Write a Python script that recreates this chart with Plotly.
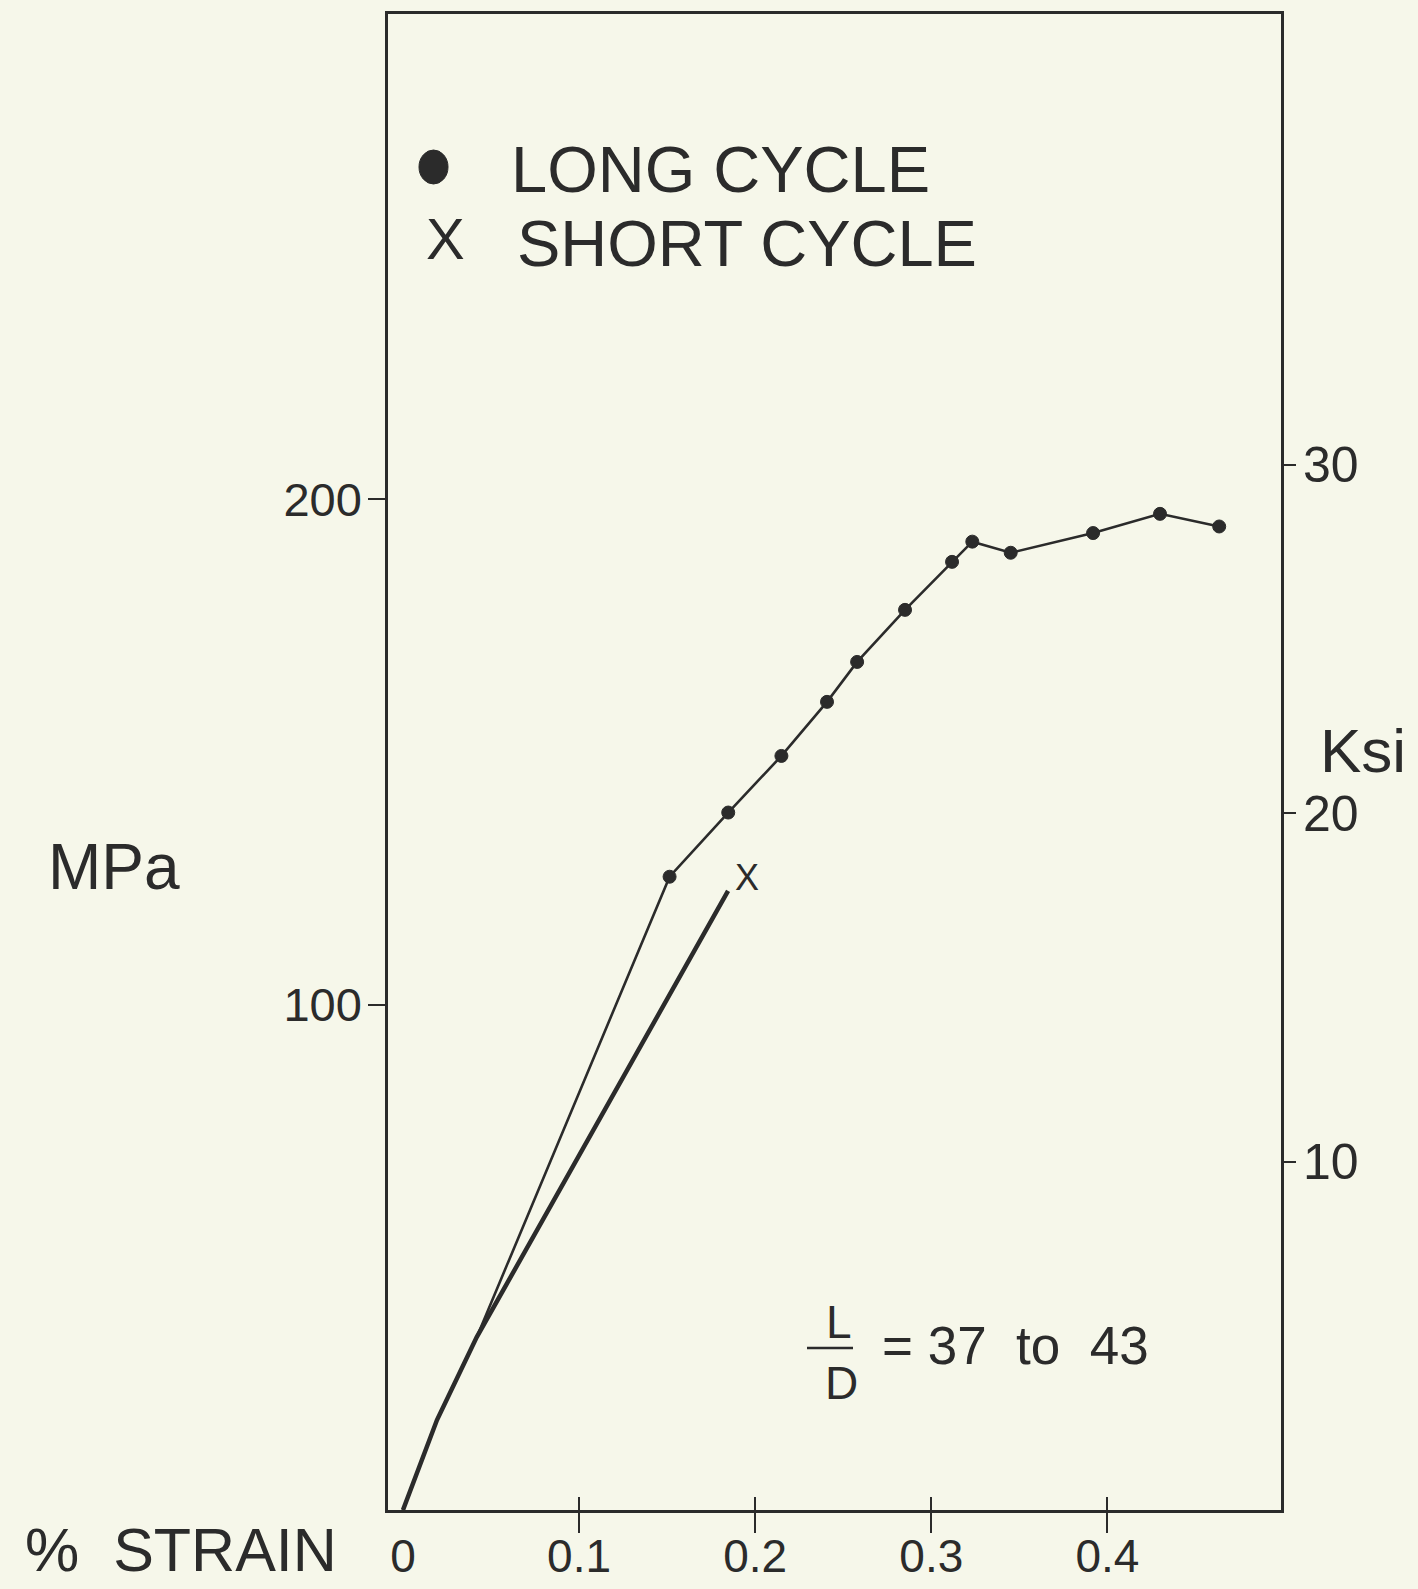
import plotly.graph_objects as go

# ---------------- data ----------------
strain_long = [0, 0.0193, 0.0419, 0.1514, 0.1847, 0.2149, 0.2408, 0.2579,
               0.2851, 0.3118, 0.3233, 0.3451, 0.3919, 0.4299, 0.4635]
stress_long = [0, 17.8, 34.2, 125.3, 138.0, 149.2, 159.9, 167.8,
               178.1, 187.6, 191.6, 189.4, 193.3, 197.1, 194.6]

strain_short = [0, 0.0193, 0.0419, 0.1846]
stress_short = [0, 17.8, 34.2, 122.5]

x_ticks = [0, 0.1, 0.2, 0.3, 0.4]
x_ticklabels = ["0", "0.1", "0.2", "0.3", "0.4"]
mpa_ticks = [100, 200]
ksi_ticks = [10, 20, 30]
MPA_PER_KSI = 6.895

# ---------------- layout geometry ----------------
W, H = 1418, 1589
L, R, T, B = 388, 1281, 14, 1510          # plot area in pixels
XR = [-0.0085, 0.4986]
YR = [0, 296]

INK = "#2b2b2b"
BG = "#f6f7ea"
FONT = "Liberation Sans, Arial, Helvetica, sans-serif"


def px(xp):
    return (xp - L) / (R - L)


def py(yp):
    return (B - yp) / (B - T)


fig = go.Figure()

marker_sizes = [0 if s < 0.1 else 13 for s in strain_long]

fig.add_trace(go.Scatter(
    x=strain_long, y=stress_long, mode="lines+markers",
    line=dict(color=INK, width=2.6),
    marker=dict(color=INK, size=marker_sizes, symbol="circle", opacity=1,
                line=dict(width=1, color=INK)),
    name="LONG CYCLE", showlegend=False, hoverinfo="skip"))

fig.add_trace(go.Scatter(
    x=strain_short, y=stress_short, mode="lines",
    line=dict(color=INK, width=4.5),
    name="SHORT CYCLE", showlegend=False, hoverinfo="skip"))

# invisible traces to activate the secondary / overlay axes
fig.add_trace(go.Scatter(
    x=[XR[0]], y=[YR[0] / MPA_PER_KSI], yaxis="y2", mode="markers",
    marker=dict(opacity=0), showlegend=False, hoverinfo="skip"))
fig.add_trace(go.Scatter(x=[XR[0]], y=[YR[0]], xaxis="x3", mode="markers",
                         marker=dict(opacity=0), showlegend=False, hoverinfo="skip"))
fig.add_trace(go.Scatter(x=[XR[0]], y=[YR[0]], xaxis="x4", mode="markers",
                         marker=dict(opacity=0), showlegend=False, hoverinfo="skip"))

axis_common = dict(showgrid=False, zeroline=False, color=INK, automargin=False)

fig.update_layout(
    template="none",
    width=W, height=H,
    margin=dict(l=L, r=W - R, t=T, b=H - B, autoexpand=False),
    paper_bgcolor=BG, plot_bgcolor=BG,
    font=dict(family=FONT, color=INK),
    # main x axis: frame
    xaxis=dict(range=XR, tickvals=x_ticks[1:], ticks="outside", ticklen=20,
               tickwidth=2.2, tickcolor=INK, showticklabels=False,
               showline=True, mirror=True, linecolor=INK, linewidth=2.5,
               **axis_common),
    # overlay: tick labels (including the "0" without a tick mark)
    xaxis3=dict(range=XR, overlaying="x", anchor="y", side="bottom",
                tickvals=x_ticks, ticktext=x_ticklabels, ticks="",
                tickfont=dict(size=46, color=INK), ticklabelstandoff=15,
                showline=False, **axis_common),
    # overlay: crossing tick marks (axis placed 14 px above the frame bottom)
    xaxis4=dict(range=XR, overlaying="x", anchor="free", position=py(B - 14),
                side="bottom", tickvals=x_ticks[1:], ticks="outside",
                ticklen=34, tickwidth=2.2, tickcolor=INK,
                showticklabels=False, showline=False, **axis_common),
    yaxis=dict(range=YR, tickvals=mpa_ticks, ticks="outside", ticklen=17,
               tickwidth=2.2, tickcolor=INK, showline=True, mirror=True,
               linecolor=INK, linewidth=2.5, tickfont=dict(size=47, color=INK),
               ticklabelstandoff=-3, **axis_common),
    yaxis2=dict(range=[YR[0] / MPA_PER_KSI, YR[1] / MPA_PER_KSI], overlaying="y",
                side="right", anchor="x", tickvals=ksi_ticks, ticks="outside",
                ticklen=14, tickwidth=2.2, tickcolor=INK, showline=False,
                tickfont=dict(size=50, color=INK), ticklabelstandoff=-3,
                **axis_common),
)

ann = []


def text(t, xp, yp, size, xanchor="center", yanchor="middle"):
    ann.append(dict(text=t, x=px(xp), y=py(yp), xref="paper", yref="paper",
                    xanchor=xanchor, yanchor=yanchor, showarrow=False,
                    font=dict(family=FONT, size=size, color=INK)))


# failure mark at the end of the short-cycle curve
ann.append(dict(text="X", x=strain_short[-1], y=stress_short[-1], xref="x", yref="y",
                xshift=19, yshift=13, showarrow=False,
                font=dict(family=FONT, size=36, color=INK)))

# axis titles
text("MPa", 114, 867, 64)
text("Ksi", 1363, 750, 62)
text("%\u00a0\u00a0STRAIN", 181, 1550, 61)

# legend
text("X", 445, 238, 58)
text("LONG CYCLE", 509, 170, 65, xanchor="left")
text("SHORT CYCLE", 515, 243, 65, xanchor="left")

# L/D note
text("L", 839, 1322, 46)
text("D", 841, 1383, 46)
text("=\u00a037\u00a0\u00a0to\u00a0\u00a043", 880, 1345, 53, xanchor="left")

fig.update_layout(annotations=ann)

fig.add_shape(type="circle", xref="paper", yref="paper",
              x0=px(419), x1=px(448), y0=py(150), y1=py(184),
              fillcolor=INK, line=dict(color=INK, width=1))
fig.add_shape(type="line", xref="paper", yref="paper",
              x0=px(807), x1=px(853), y0=py(1348), y1=py(1348),
              line=dict(color=INK, width=2.5))

fig.write_html("out.html")
